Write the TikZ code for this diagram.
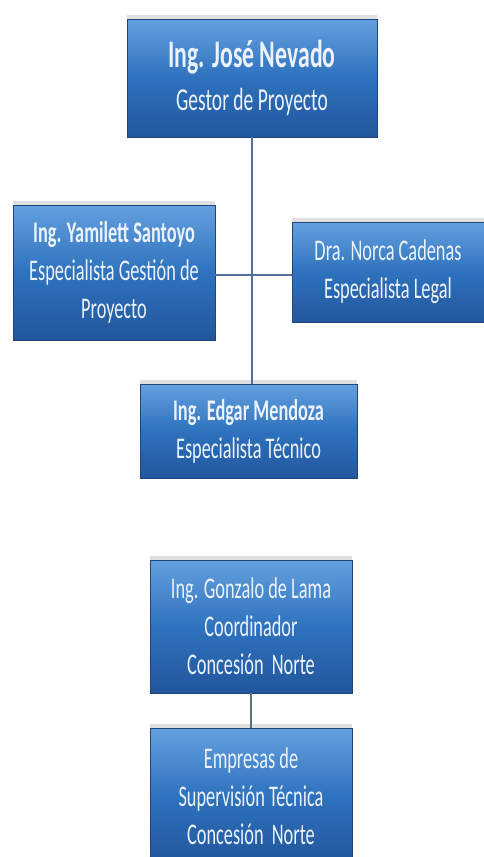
\documentclass[tikz,border=0pt]{standalone}
\usepackage{fontspec}
\setmainfont[FakeStretch=0.61]{Carlito}
\usetikzlibrary{shadows}
\definecolor{boxtop}{RGB}{100,160,222}
\definecolor{boxmid}{RGB}{46,114,190}
\definecolor{boxbot}{RGB}{34,86,156}
\definecolor{boxedge}{RGB}{30,70,125}
\definecolor{boxtext}{RGB}{236,243,252}
\definecolor{linkblue}{RGB}{80,110,160}
\definecolor{linkgray}{RGB}{95,110,130}
\tikzset{
  orgbox/.style={rectangle, draw=boxedge, line width=0.8pt,
    top color=boxtop, bottom color=boxbot, middle color=boxmid,
    text=boxtext, align=center, inner sep=2pt,
    drop shadow={shadow xshift=0pt, shadow yshift=4pt, fill=black!30, opacity=0.4}},
  bigtext/.style={font=\fontsize{32}{43}\selectfont},
  smalltext/.style={font=\fontsize{30}{38}\selectfont},
  link/.style={draw=linkblue, line width=2pt},
  graylink/.style={draw=linkgray, line width=2pt}
}
\begin{document}
\begin{tikzpicture}[x=1pt,y=-1pt]
\useasboundingbox (0,0) rectangle (484,857);
\node[orgbox, bigtext, minimum width=250pt, minimum height=118pt] (n1) at (252,78)
  {{\fontsize{39}{43}\selectfont\bfseries Ing. José Nevado}\\Gestor de Proyecto};
\node[orgbox, smalltext, minimum width=202pt, minimum height=135pt] (n2) at (114,272.5)
  {{\bfseries Ing. Yamilett Santoyo}\\Especialista Gestión de\\Proyecto};
\node[orgbox, smalltext, minimum width=192pt, minimum height=100pt] (n3) at (388,272)
  {Dra. Norca Cadenas\\Especialista Legal};
\node[orgbox, smalltext, minimum width=217pt, minimum height=94pt] (n4) at (248.5,431)
  {{\bfseries Ing. Edgar Mendoza}\\Especialista Técnico};
\node[orgbox, smalltext, minimum width=202pt, minimum height=133pt] (n5) at (251,626.5)
  {Ing. Gonzalo de Lama\\Coordinador\\Concesión~ Norte};
\node[orgbox, smalltext, minimum width=202pt, minimum height=136pt] (n6) at (251,796)
  {Empresas de\\Supervisión Técnica\\Concesión~ Norte};
\draw[link] (n1.south) -- (n1.south |- n4.north);
\draw[link] (n2.east |- 0,275) -- (n3.west |- 0,275);
\draw[graylink] (n5.south) -- (n6.north);
\end{tikzpicture}
\end{document}
